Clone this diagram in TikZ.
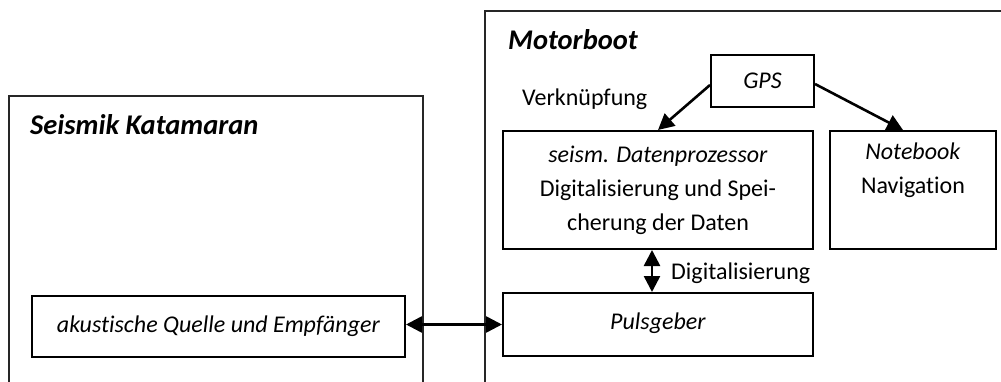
\documentclass[tikz,border=0pt]{standalone}
\usepackage{fontspec}
\setmainfont[Ligatures=NoCommon,RawFeature={-liga;-dlig}]{Carlito}
\usetikzlibrary{arrows.meta}
\begin{document}
\begin{tikzpicture}[x=1pt,y=-1pt,
  box/.style={draw=black,line width=2pt,rectangle,inner sep=0pt,align=center,font=\fontsize{24}{34}\selectfont},
  outer/.style={draw=black!85,line width=1.6pt},
  txt/.style={inner sep=0pt,font=\fontsize{24}{34}\selectfont},
  ttl/.style={inner sep=0pt,font=\fontsize{28.5}{34}\selectfont\bfseries\itshape},
  arr/.style={line width=2.6pt,-{Triangle[length=16pt,width=16pt]}},
  darr/.style={line width=2.6pt,{Triangle[length=16pt,width=16pt]}-{Triangle[length=16pt,width=16pt]}}]
\useasboundingbox (0,0) rectangle (1001,382);
\clip (0,0) rectangle (1001,382);
% outer containers
\draw[outer] (9,400) -- (9,96) -- (423,96) -- (423,400);
\draw[outer] (485,400) -- (485,11) -- (1010,11);
\node[ttl,anchor=base west] (tk) at (30,135) {Seismik Katamaran};
\node[ttl,anchor=base west] (tm) at (508,50) {Motorboot};
% boxes
\node[box,minimum width=103pt,minimum height=52pt] (gps) at (762.5,81) {\textit{GPS}};
\node[box,minimum width=310pt,minimum height=118pt] (dp) at (658,190)
  {\textit{seism. Datenprozessor}\\Digitalisierung und Spei-\\cherung der Daten};
\node[box,minimum width=166pt,minimum height=118pt] (nb) at (913,190)
  {\textit{Notebook}\\Navigation\\\strut};
\node[box,minimum width=310pt,minimum height=63pt] (pg) at (658,324.5) {\raisebox{6pt}{\textit{Pulsgeber}}};
\node[box,minimum width=373pt,minimum height=61pt] (ak) at (218.5,326.5) {\raisebox{3pt}{\textit{akustische Quelle und Empfänger}}};
% labels
\node[txt,anchor=base west] (lv) at (522,106) {Verknüpfung};
\node[txt,anchor=base west] (ld) at (671,279) {Digitalisierung};
% connectors
\draw[arr] ([yshift=-4pt]gps.west) -- (dp.north);
\draw[arr] ([yshift=-3pt]gps.east) -- ([xshift=-10pt]nb.north);
\draw[darr] ([xshift=-6pt]dp.south) -- ([xshift=-6pt]pg.north);
\draw[darr] (ak.east |- pg.west) -- (pg.west);
\end{tikzpicture}
\end{document}
